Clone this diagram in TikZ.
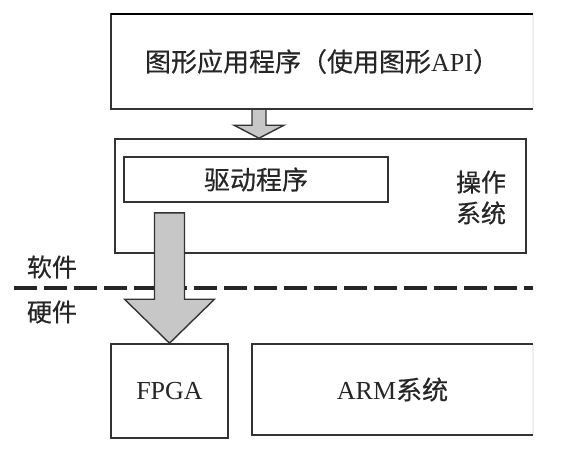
\documentclass[tikz,border=0pt]{standalone}
\usepackage{fontspec}
\setmainfont{Liberation Serif}
\newfontfamily\cjk[FakeBold=0.5]{Noto Sans CJK SC}
\usepackage{tikz}
\usetikzlibrary{calc}

\tikzset{
  boxline/.style={draw=black!80,line width=1.6pt},
  plainbox/.style={boxline,inner sep=0pt},
  openbox/.style={inner sep=0pt},
  txt/.style={text=black!85,font=\fontsize{25}{31}\selectfont},
  arrowbody/.style={draw=black!80,line width=1.4pt,fill=black!22,line join=miter},
  cut/.style={draw=black!85,line width=3.8pt,dash pattern=on 23pt off 7pt}
}
% block arrow: start, tip, shaft half width, head half width, head length
\newcommand{\fatarrow}[5]{%
  \draw[arrowbody] ($(#1)+(-#3,0)$) -- ($(#2)+(-#3,-#5)$) -- ($(#2)+(-#4,-#5)$) -- (#2)
    -- ($(#2)+(#4,-#5)$) -- ($(#2)+(#3,-#5)$) -- ($(#1)+(#3,0)$) -- cycle;}

\begin{document}
\begin{tikzpicture}[x=1pt,y=-1pt]
  \useasboundingbox (0,0) rectangle (570,453);

  % software side
  \draw (322,61.5) node[openbox,txt,minimum width=422pt,minimum height=95pt,font=\fontsize{26}{31}\selectfont] (app)
     {{\cjk 图形应用程序（使用图形}API{\cjk ）}};
  \draw (320.5,196) node[plainbox,minimum width=411pt,minimum height=114pt] (os) {};
  \draw (256,179.5) node[plainbox,txt,minimum width=264pt,minimum height=45pt,font=\fontsize{26}{31}\selectfont] (drv) {\cjk 驱动程序};
  \draw (481,197.5) node[txt,align=center] (ostxt) {\cjk 操作\\\cjk 系统};

  % hardware side
  \draw (169.5,391) node[plainbox,txt,minimum width=117pt,minimum height=94pt,font=\fontsize{26}{31}\selectfont] (fpga) {FPGA};
  \draw (392.5,389.5) node[openbox,txt,minimum width=281pt,minimum height=91pt,font=\fontsize{26}{31}\selectfont] (arm) {ARM{\cjk 系统}};

  % open right ends
  \draw[gray!12,line width=2pt] (app.north east) -- (app.south east);
  \draw[gray!12,line width=2pt] (arm.north east) -- (arm.south east);
  \draw[boxline] (app.north east) -- (app.north west) -- (app.south west) -- (app.south east);
  \draw[boxline,line width=2.4pt,draw=black] (app.north east) -- (app.north west);
  \draw[boxline] (arm.north east) -- (arm.north west) -- (arm.south west) -- (arm.south east);

  % software / hardware border
  \draw (52,267) node[txt] (sw) {\cjk 软件};
  \draw (52,312) node[txt] (hw) {\cjk 硬件};
  \coordinate (cl) at (14,288);
  \coordinate (cr) at (533,288);
  \draw[cut] (cl) -- (cr);

  % arrows
  \coordinate (a1) at (app.south -| 259,0);
  \coordinate (b1) at (os.north -| a1);
  \fatarrow{a1}{b1}{7}{25}{13}
  \coordinate (a2) at ($(drv.south -| fpga.north)+(0,10)$);
  \coordinate (b2) at (fpga.north);
  \fatarrow{a2}{b2}{15}{45}{44}
\end{tikzpicture}
\end{document}
